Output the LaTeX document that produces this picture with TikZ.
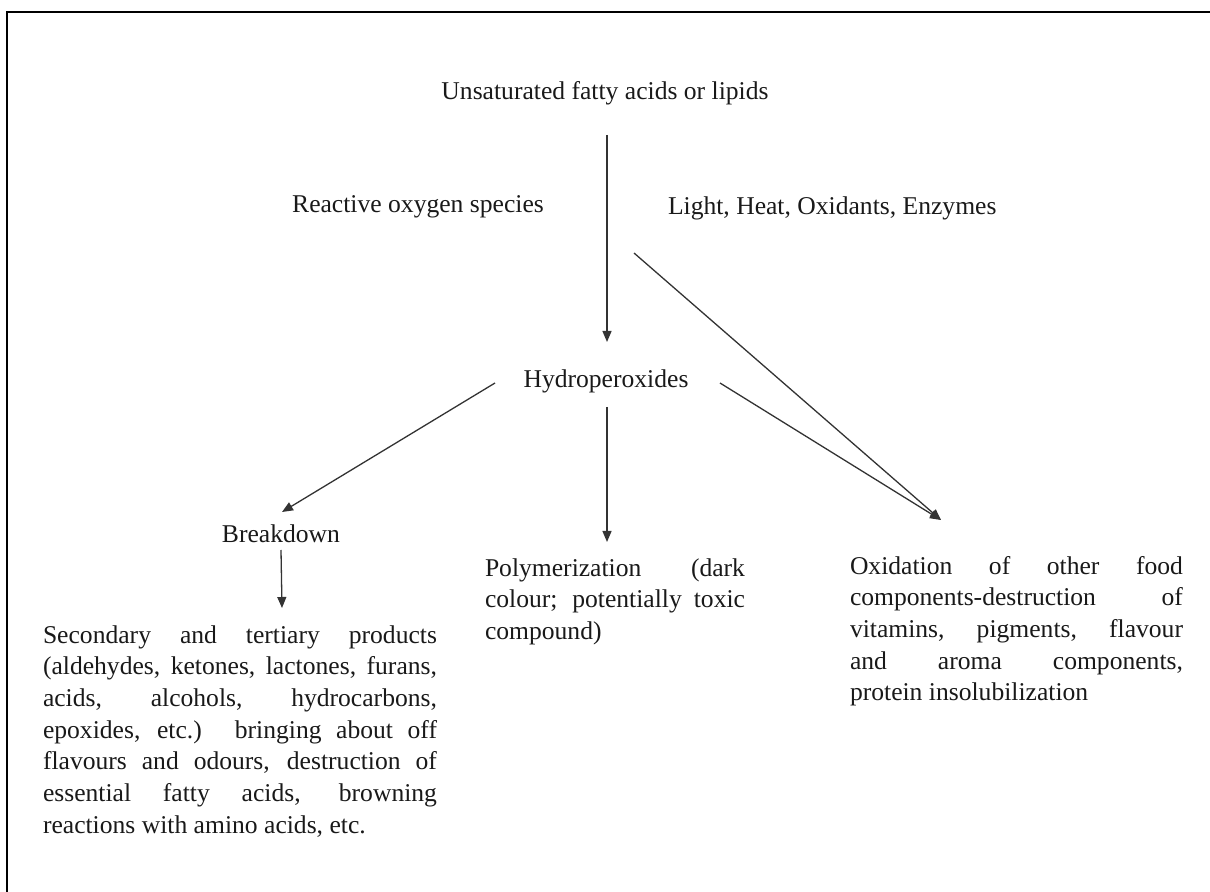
\documentclass[tikz,border=0pt]{standalone}
\usepackage{fontspec}
\setmainfont{Liberation Serif}
\usetikzlibrary{arrows.meta,calc}
\tolerance=10000
\pretolerance=-1
\hbadness=10000
\hyphenpenalty=10000
\begin{document}
\begin{tikzpicture}[x=0.5pt,y=-0.5pt,
  every node/.style={inner sep=0pt, outer sep=0pt, text=black!90,
    font=\fontsize{12.8pt}{15.85pt}\selectfont},
  lbl/.style={anchor=base},
  para/.style={anchor=north west, align=justify},
  arr/.style={draw=black!80, line width=0.65pt, -{Triangle[length=5.5pt,width=4.5pt]}}]
\useasboundingbox (0,0) rectangle (1210,892);
\draw[line width=1pt] (7,892) |- (1210,12);

\node[lbl] (uns) at (605,100) {Unsaturated fatty acids or lipids};
\node[lbl] (ros) at (418,213) {Reactive oxygen species};
\node[anchor=base west] (light) at (668,215) {Light, Heat, Oxidants, Enzymes};
\node[lbl] (hyd) at (606,388) {Hydroperoxides};
\node[lbl] (bre) at (281,543) {Breakdown};

\node[para, text width=197pt] (sec) at (43,621) {\strut Secondary and tertiary products\linebreak
(aldehydes, ketones, lactones, furans,\linebreak
acids, alcohols, hydrocarbons,\linebreak
epoxides, etc.) bringing about off\linebreak
flavours and odours, destruction of\linebreak
essential fatty acids, browning\linebreak
reactions with amino acids, etc.};

\node[para, text width=130pt] (poly) at (485,554) {\strut Polymerization (dark\linebreak
colour; potentially toxic\linebreak
compound)};

\node[para, text width=166.5pt] (oxi) at (850,552) {\strut Oxidation of other food\linebreak
components-destruction of\linebreak
vitamins, pigments, flavour\linebreak
and aroma components,\linebreak
protein insolubilization};

\draw[arr] ($(uns.base)+(2,35)$) -- ($(hyd.base)+(1,-46)$);
\draw[arr] ($(hyd.base)+(-111,-5)$) -- ($(bre.base)+(1,-31)$);
\draw[arr] ($(hyd.base)+(1,19)$) -- ($(poly.north west)+(122,-12)$);
\draw[arr] ($(hyd.base)+(114,-5)$) -- ($(oxi.north west)+(91,-32)$);
\draw[arr] ($(light.base west)+(-34,38)$) -- ($(oxi.north west)+(91,-32)$);
\draw[arr] ($(bre.base)+(0,7)$) -- ($(sec.north west)+(239,-13)$);
\end{tikzpicture}
\end{document}
